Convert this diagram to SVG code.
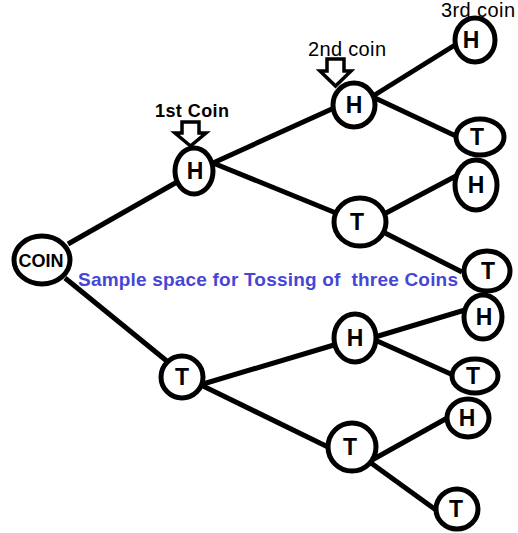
<svg xmlns="http://www.w3.org/2000/svg" width="518" height="533" viewBox="0 0 518 533">
<style>
.n ellipse{fill:#fff;stroke:#000;stroke-width:5}
.n text{font-family:"Liberation Sans",Arial,sans-serif;font-weight:bold;font-size:23px;text-anchor:middle;fill:#000}
#edges line{stroke:#000;stroke-width:5;stroke-linecap:butt}
.lbl{font-family:"Liberation Sans",Arial,sans-serif;font-size:20px;fill:#000}
.arr{fill:#fff;stroke:#000;stroke-width:3.5;stroke-linejoin:miter}
</style>
<rect width="518" height="533" fill="#fff"/>
<g id="edges">
<line x1="68" y1="244" x2="177" y2="182"/>
<line x1="65" y1="278" x2="168" y2="362"/>
<line x1="213" y1="163" x2="334" y2="108"/>
<line x1="213" y1="163" x2="336" y2="213"/>
<line x1="373" y1="96" x2="455" y2="45"/>
<line x1="375" y1="98" x2="458" y2="137"/>
<line x1="386" y1="213" x2="456" y2="176"/>
<line x1="385" y1="233" x2="462" y2="272"/>
<line x1="203" y1="384" x2="334" y2="345"/>
<line x1="203" y1="386" x2="330" y2="448"/>
<line x1="375" y1="337" x2="465" y2="310"/>
<line x1="375" y1="340" x2="453" y2="375"/>
<line x1="372" y1="460" x2="449" y2="417"/>
<line x1="371" y1="463" x2="436" y2="510"/>
</g>
<g id="coin" class="n"><ellipse cx="42" cy="260" rx="28" ry="24"/><text x="41" y="267" style="font-size:18px">COIN</text></g>
<g id="h1" class="n"><ellipse cx="194" cy="171" rx="19" ry="23"/><text x="195" y="179">H</text></g>
<g id="t1" class="n"><ellipse cx="182" cy="377" rx="21" ry="21"/><text x="182" y="385">T</text></g>
<g id="hh" class="n"><ellipse cx="354" cy="105" rx="21" ry="22"/><text x="354" y="113">H</text></g>
<g id="ht" class="n"><ellipse cx="360" cy="222" rx="26" ry="24"/><text x="357" y="230">T</text></g>
<g id="th" class="n"><ellipse cx="355" cy="338" rx="21" ry="24"/><text x="355" y="346">H</text></g>
<g id="tt" class="n"><ellipse cx="352" cy="447" rx="24" ry="24"/><text x="350" y="455">T</text></g>
<g id="hhh" class="n"><ellipse cx="475" cy="40" rx="20" ry="22"/><text x="471" y="48">H</text></g>
<g id="hht" class="n"><ellipse cx="480" cy="137" rx="24" ry="18"/><text x="477" y="145">T</text></g>
<g id="hth" class="n"><ellipse cx="476" cy="185" rx="21" ry="25"/><text x="476" y="193">H</text></g>
<g id="htt" class="n"><ellipse cx="487" cy="271" rx="23" ry="20"/><text x="488" y="279">T</text></g>
<g id="thh" class="n"><ellipse cx="483" cy="317" rx="19" ry="22"/><text x="484" y="325">H</text></g>
<g id="tht" class="n"><ellipse cx="475" cy="376" rx="23" ry="17"/><text x="473" y="384">T</text></g>
<g id="tth" class="n"><ellipse cx="468" cy="418" rx="21" ry="19"/><text x="467" y="426">H</text></g>
<g id="ttt" class="n"><ellipse cx="457" cy="509" rx="21" ry="20"/><text x="456" y="517">T</text></g>
<g id="labels">
<text class="lbl" x="155" y="117" style="font-weight:bold;font-size:18px" textLength="74">1st Coin</text>
<polygon class="arr" points="182,122 199,122 199,133 206,133 190.5,146 175,133 182,133"/>
<text class="lbl" x="308" y="56" textLength="78">2nd coin</text>
<polygon class="arr" points="327,59 344,59 344,71 351,71 335.5,86 320,71 327,71"/>
<text class="lbl" x="441" y="17" textLength="74">3rd coin</text>
<text x="78" y="286" style="font-family:'Liberation Sans',Arial,sans-serif;font-weight:bold;font-size:19px;fill:#4646d6;white-space:pre" textLength="380">Sample space for Tossing of  three Coins</text>
</g>
</svg>
